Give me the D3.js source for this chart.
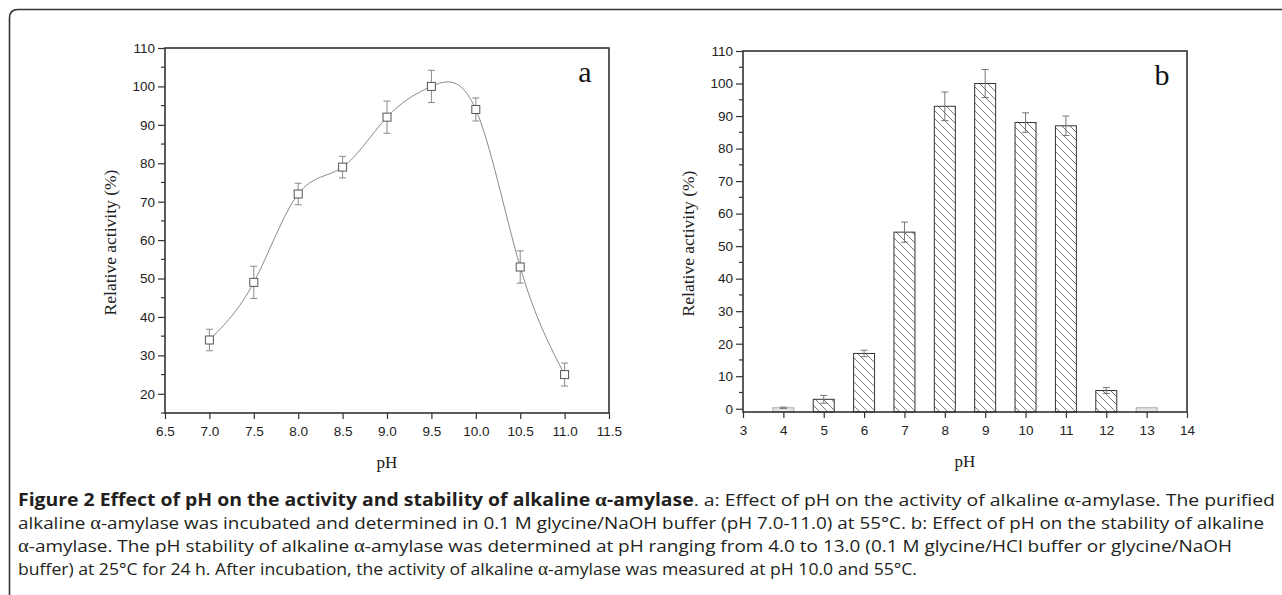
<!DOCTYPE html>
<html>
<head>
<meta charset="utf-8">
<script src="https://cdn.jsdelivr.net/npm/d3@7"></script>
<style>
  html, body { margin: 0; padding: 0; background: #fff; }
  svg { display: block; }
</style>
</head>
<body>
<svg id="fig" width="1282" height="595"></svg>
<script>
// Panel a: activity vs pH
const phA = [7.0, 7.5, 8.0, 8.5, 9.0, 9.5, 10.0, 10.5, 11.0];
const activityA = [34, 49, 72, 79, 92, 100, 94, 53, 25];
const errA = [2.8, 4.2, 2.8, 2.8, 4.2, 4.2, 3, 4.2, 3];
const xTicksA = [6.5, 7.0, 7.5, 8.0, 8.5, 9.0, 9.5, 10.0, 10.5, 11.0, 11.5];
const yTicksA = [20, 30, 40, 50, 60, 70, 80, 90, 100, 110];

// Panel b: stability vs pH
const phB = [4, 5, 6, 7, 8, 9, 10, 11, 12, 13];
const activityB = [0.3, 2.9, 17, 54.3, 93, 100, 88, 87, 5.6, 0.3];
const errB = [0.2, 1.2, 1, 3.1, 4.4, 4.3, 3, 3, 0.9, 0];
const xTicksB = [3, 4, 5, 6, 7, 8, 9, 10, 11, 12, 13, 14];
const yTicksB = [0, 10, 20, 30, 40, 50, 60, 70, 80, 90, 100, 110];

const captionLines = [
  [{ t: 'Figure 2 Effect of pH on the activity and stability of alkaline ', b: true },
   { t: 'α', b: true, g: true }, { t: '-amylase', b: true },
   { t: '. a: Effect of pH on the activity of alkaline ' }, { t: 'α', g: true },
   { t: '-amylase. The purified' }],
  [{ t: 'alkaline ' }, { t: 'α', g: true },
   { t: '-amylase was incubated and determined in 0.1 M glycine/NaOH buffer (pH 7.0-11.0) at 55°C. b: Effect of pH on the stability of alkaline' }],
  [{ t: 'α', g: true },
   { t: '-amylase. The pH stability of alkaline ' }, { t: 'α', g: true },
   { t: '-amylase was determined at pH ranging from 4.0 to 13.0 (0.1 M glycine/HCl buffer or glycine/NaOH' }],
  [{ t: 'buffer) at 25°C for 24 h. After incubation, the activity of alkaline ' }, { t: 'α', g: true },
   { t: '-amylase was measured at pH 10.0 and 55°C.' }]
];
const captionWidths = [1257, 1246, 1214, 899];

const svg = d3.select('#fig');
const AXIS = '#333';
const TICK_FONT = '"Liberation Sans", Arial, sans-serif';
const SERIF = '"Liberation Serif", "Times New Roman", serif';

// outer frame: top and left edges with a rounded corner
svg.append('path')
  .attr('d', 'M9.5,595 L9.5,18 Q9.5,9.5 18,9.5 L1282,9.5')
  .attr('fill', 'none').attr('stroke', '#333').attr('stroke-width', 1.6);

// hatch pattern for bars
const defs = svg.append('defs');
defs.append('pattern')
  .attr('id', 'hatch').attr('patternUnits', 'userSpaceOnUse')
  .attr('width', 8).attr('height', 8)
  .call(p => {
    p.append('rect').attr('width', 8).attr('height', 8).attr('fill', '#fff');
    p.append('path').attr('d', 'M-2,-2 L10,10 M-2,6 L2,10 M6,-2 L10,2')
      .attr('stroke', '#555').attr('stroke-width', 0.8);
  });

function frame(g, x, y, fmtX, fmtY, xTicks, yTicks, minorY, title, letter, letterPos) {
  const [x0, x1] = x.range();
  const [y0, y1] = y.range();

  // minor ticks on y
  g.append('g').selectAll('line').data(minorY).join('line')
    .attr('x1', x0 - 4).attr('x2', x0)
    .attr('y1', d => y(d)).attr('y2', d => y(d))
    .attr('stroke', AXIS).attr('stroke-width', 1.2);

  const ax = g.append('g').attr('transform', `translate(0,${y0})`)
    .call(d3.axisBottom(x).tickValues(xTicks).tickFormat(fmtX).tickSize(6).tickSizeOuter(0));
  const ay = g.append('g').attr('transform', `translate(${x0},0)`)
    .call(d3.axisLeft(y).tickValues(yTicks).tickFormat(fmtY).tickSize(7).tickSizeOuter(0));
  [ax, ay].forEach(a => {
    a.select('.domain').remove();
    a.selectAll('line').attr('stroke', AXIS).attr('stroke-width', 1.2);
    a.selectAll('text').attr('font-family', TICK_FONT).attr('font-size', 13.5).attr('fill', '#222');
  });
  ax.selectAll('text').attr('dy', '1.0em');
  ay.selectAll('text').attr('x', -10);

  g.append('rect')
    .attr('x', x0).attr('y', y1).attr('width', x1 - x0).attr('height', y0 - y1)
    .attr('fill', 'none').attr('stroke', AXIS).attr('stroke-width', 1.6);

  g.append('text')
    .attr('transform', `translate(${x0 - 49},${(y0 + y1) / 2 + 12}) rotate(-90)`)
    .attr('text-anchor', 'middle').attr('font-family', SERIF).attr('font-size', 17.5)
    .attr('fill', '#222').text(title);
  g.append('text')
    .attr('x', (x0 + x1) / 2).attr('y', y0 + 55)
    .attr('text-anchor', 'middle').attr('font-family', SERIF).attr('font-size', 17)
    .attr('fill', '#222').text('pH');
  g.append('text')
    .attr('x', letterPos[0]).attr('y', letterPos[1])
    .attr('text-anchor', 'middle').attr('font-family', SERIF).attr('font-size', 30)
    .attr('fill', '#111').text(letter);
}

// ---- Panel a ----
const xa = d3.scaleLinear().domain([6.5, 11.5]).range([165, 609]);
const ya = d3.scaleLinear().domain([15, 110]).range([413, 48]);
const ga = svg.append('g');

const ptsA = phA.map((p, i) => ({ p, v: activityA[i], e: errA[i] }));
ga.append('path')
  .datum(ptsA)
  .attr('d', d3.line().x(d => xa(d.p)).y(d => ya(d.v)).curve(d3.curveNatural))
  .attr('fill', 'none').attr('stroke', '#8a8a8a').attr('stroke-width', 1);

const eb = ga.append('g').selectAll('g').data(ptsA).join('g')
  .attr('stroke', '#8a8a8a').attr('stroke-width', 1);
eb.append('line')
  .attr('x1', d => xa(d.p)).attr('x2', d => xa(d.p))
  .attr('y1', d => ya(d.v + d.e)).attr('y2', d => ya(d.v - d.e));
eb.append('line')
  .attr('x1', d => xa(d.p) - 3.5).attr('x2', d => xa(d.p) + 3.5)
  .attr('y1', d => ya(d.v + d.e)).attr('y2', d => ya(d.v + d.e));
eb.append('line')
  .attr('x1', d => xa(d.p) - 3.5).attr('x2', d => xa(d.p) + 3.5)
  .attr('y1', d => ya(d.v - d.e)).attr('y2', d => ya(d.v - d.e));

ga.append('g').selectAll('rect').data(ptsA).join('rect')
  .attr('x', d => xa(d.p) - 4).attr('y', d => ya(d.v) - 4)
  .attr('width', 8).attr('height', 8)
  .attr('fill', '#fff').attr('stroke', '#555').attr('stroke-width', 1);

frame(ga, xa, ya, d3.format('.1f'), d3.format('d'), xTicksA, yTicksA,
  d3.range(15, 110, 10), 'Relative activity (%)', 'a', [585, 82]);

// ---- Panel b ----
const xb = d3.scaleLinear().domain([3, 14]).range([743, 1187]);
const yb = d3.scaleLinear().domain([-1, 110]).range([412, 51]);
const gb = svg.append('g');
const barW = xb(3.52) - xb(3);

const ptsB = phB.map((p, i) => ({ p, v: activityB[i], e: errB[i] }));
gb.append('g').selectAll('rect').data(ptsB).join('rect')
  .attr('x', d => xb(d.p) - barW / 2).attr('y', d => yb(d.v))
  .attr('width', barW).attr('height', d => yb(-1) - yb(d.v))
  .attr('fill', d => d.v < 1 ? '#e6e6e6' : 'url(#hatch)')
  .attr('stroke', d => d.v < 1 ? '#aaa' : '#333').attr('stroke-width', 1);

const ebb = gb.append('g').selectAll('g').data(ptsB.filter(d => d.e > 0)).join('g')
  .attr('stroke', '#777').attr('stroke-width', 1);
ebb.append('line')
  .attr('x1', d => xb(d.p)).attr('x2', d => xb(d.p))
  .attr('y1', d => yb(d.v + d.e)).attr('y2', d => yb(d.v - d.e));
ebb.append('line')
  .attr('x1', d => xb(d.p) - 3.5).attr('x2', d => xb(d.p) + 3.5)
  .attr('y1', d => yb(d.v + d.e)).attr('y2', d => yb(d.v + d.e));
ebb.append('line')
  .attr('x1', d => xb(d.p) - 3.5).attr('x2', d => xb(d.p) + 3.5)
  .attr('y1', d => yb(d.v - d.e)).attr('y2', d => yb(d.v - d.e));

frame(gb, xb, yb, d3.format('d'), d3.format('d'), xTicksB, yTicksB,
  d3.range(5, 110, 10), 'Relative activity (%)', 'b', [1162, 85]);

// ---- Caption ----
const cap = svg.append('g')
  .attr('font-family', '"Open Sans", "Noto Sans", sans-serif')
  .attr('font-size', 17).attr('fill', '#231f20');
captionLines.forEach((parts, i) => {
  const t = cap.append('text').attr('x', 18).attr('y', 505.5 + i * 23.2)
    .attr('textLength', captionWidths[i]).attr('lengthAdjust', 'spacingAndGlyphs');
  parts.forEach(s => {
    const ts = t.append('tspan').text(s.t);
    if (s.b) ts.attr('font-weight', 'bold');
    if (s.g) ts.attr('font-family', SERIF).attr('font-size', 18.5);
  });
});
</script>
</body>
</html>
